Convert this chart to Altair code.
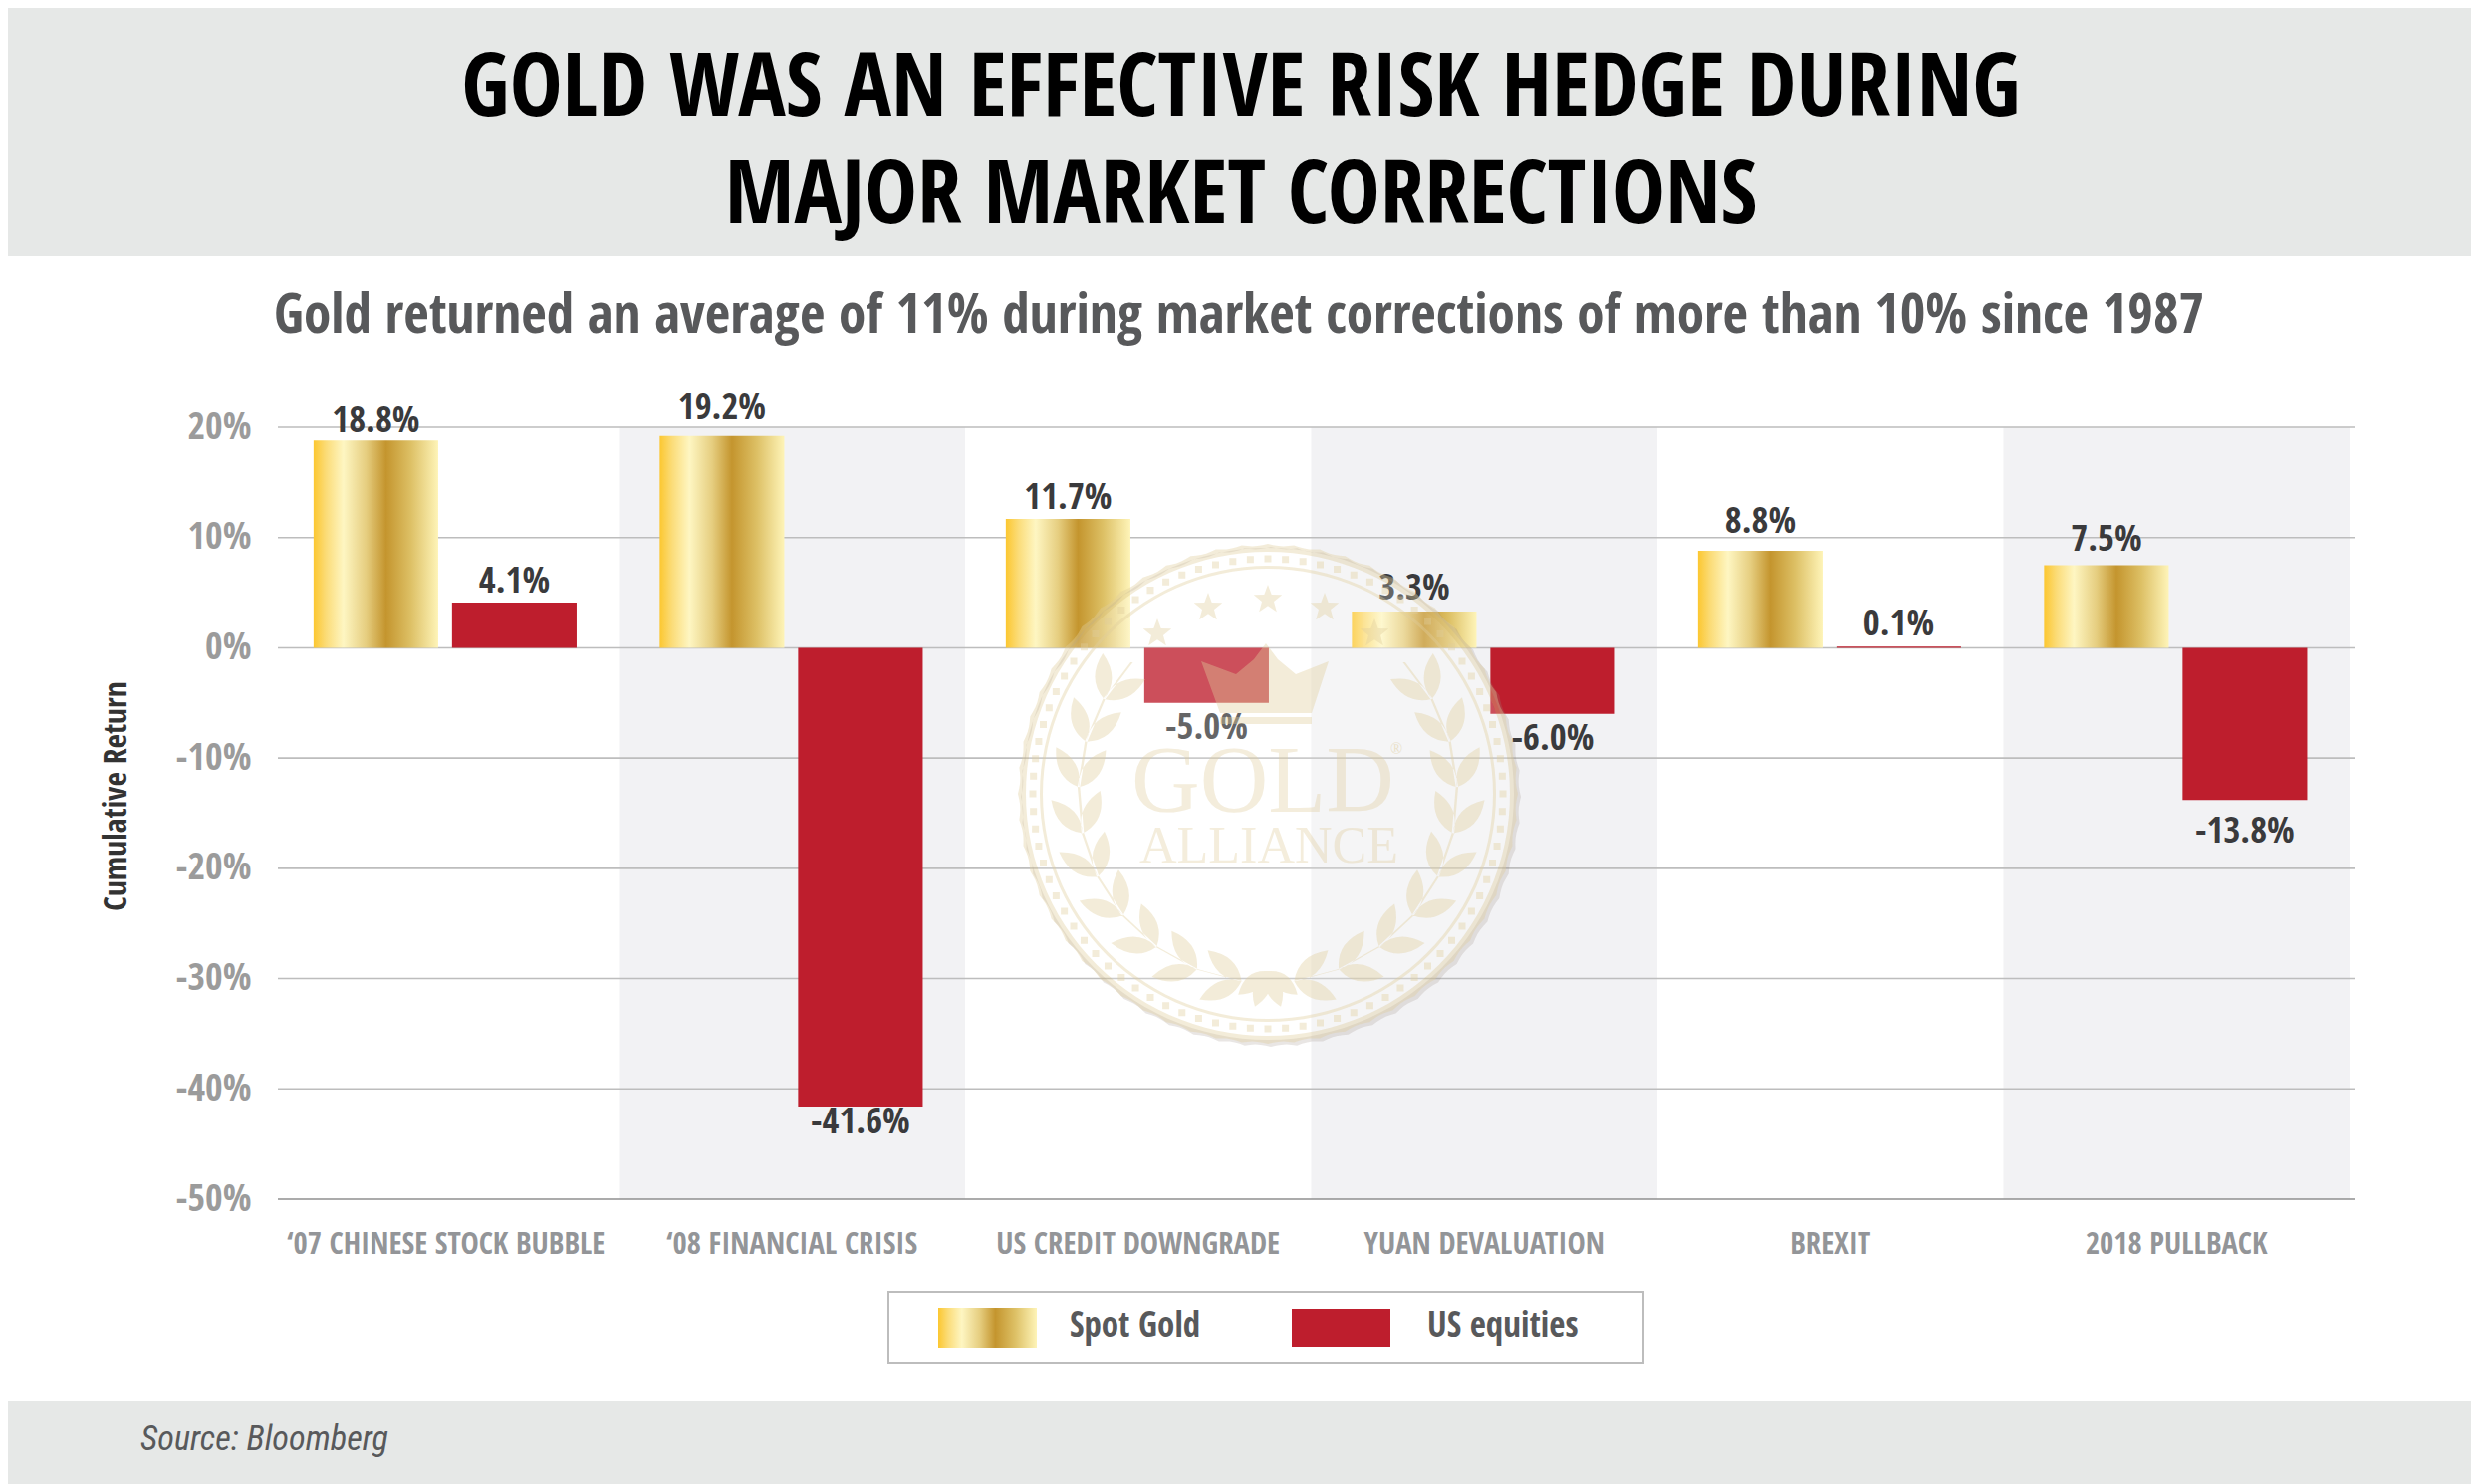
import math
import altair as alt
import pandas as pd

# ---- values ----
categories = ["\u201807 CHINESE STOCK BUBBLE", "\u201808 FINANCIAL CRISIS", "US CREDIT DOWNGRADE",
              "YUAN DEVALUATION", "BREXIT", "2018 PULLBACK"]
shaded = ["\u201808 FINANCIAL CRISIS", "YUAN DEVALUATION", "2018 PULLBACK"]
gold_values = [18.8, 19.2, 11.7, 3.3, 8.8, 7.5]
equity_values = [4.1, -41.6, -5.0, -6.0, 0.1, -13.8]
series_names = ["Spot Gold", "US equities"]
y_ticks = [20, 10, 0, -10, -20, -30, -40, -50]

title_lines = ["GOLD WAS AN EFFECTIVE RISK HEDGE DURING", "MAJOR MARKET CORRECTIONS"]
subtitle = "Gold returned an average of 11% during market corrections of more than 10% since 1987"
source = "Source: Bloomberg"
y_title = "Cumulative Return"

# ---- frame ----
OX, OY = 279, 429   # plot origin on the page
PW, PH = 2085, 775
FONT = "Open Sans Condensed"
def px(v): return v - OX
def py(v): return v - OY

GOLD = alt.LinearGradient(
    gradient="linear", x1=0, x2=1, y1=0, y2=0,
    stops=[alt.GradientStop(color="#FCC730", offset=0),
           alt.GradientStop(color="#FBDC78", offset=0.1),
           alt.GradientStop(color="#FEF6C2", offset=0.24),
           alt.GradientStop(color="#E6CE80", offset=0.42),
           alt.GradientStop(color="#C4952E", offset=0.58),
           alt.GradientStop(color="#DDC065", offset=0.78),
           alt.GradientStop(color="#FEF4B8", offset=1)])
RED = "#BE1E2D"

rows = []
for c, g, e in zip(categories, gold_values, equity_values):
    rows.append({"cat": c, "series": series_names[0], "value": g, "label": f"{g:.1f}%"})
    rows.append({"cat": c, "series": series_names[1], "value": e, "label": f"{e:.1f}%"})
df = pd.DataFrame(rows)

x_enc = alt.X("cat:N", title=None,
              scale=alt.Scale(domain=categories, paddingInner=0, paddingOuter=0),
              axis=alt.Axis(labelAngle=0, labelFont=FONT, labelFontSize=30.7, labelFontWeight="bold",
                            labelColor="#939598", labelPadding=30, labelOffset=-5, labelLimit=0,
                            ticks=False, domain=False, grid=False))
y_enc = alt.Y("value:Q", scale=alt.Scale(domain=[-50, 20], nice=False), title=y_title,
              axis=alt.Axis(values=y_ticks, labelExpr="datum.value + '%'", labelFont=FONT,
                            labelFontSize=38, labelFontWeight="bold", labelColor="#9B9B9B",
                            labelPadding=27, ticks=False, domain=False, grid=False,
                            titleFont=FONT, titleFontSize=31.5, titleFontWeight="bold",
                            titleColor="#333333", titleX=px(133), titleY=py(799)))
off_enc = alt.XOffset("series:N", scale=alt.Scale(domain=series_names, paddingInner=0.1,
                                                  paddingOuter=0.3, align=0.43))

def band(x0, x1, y0, y1, **kw):
    return alt.Chart(pd.DataFrame({"a": [0]})).mark_rect(**kw).encode(
        x=alt.value(px(x0)), x2=alt.value(px(x1)), y=alt.value(py(y0)), y2=alt.value(py(y1)))

def txt(s, x, y, size, color, align="center", weight="bold", font=FONT, **kw):
    return alt.Chart(pd.DataFrame({"a": [0]})).mark_text(
        text=s, font=font, fontSize=size, fontWeight=weight, color=color, align=align,
        baseline="middle", **kw).encode(x=alt.value(px(x)), y=alt.value(py(y)))

# ---- plot layers ----
band_layer = alt.Chart(pd.DataFrame({"cat": shaded})).mark_rect(color="#F2F2F4").encode(
    x=x_enc, xOffset=alt.value(-5))
grid_layer = alt.Chart(pd.DataFrame({"value": y_ticks})).mark_rule(strokeWidth=1.6).encode(
    y=y_enc,
    color=alt.condition("datum.value === -50", alt.value("#8F8F8F"), alt.value("#BDBDBD")))
gold_bars = alt.Chart(df[df.series == series_names[0]]).mark_bar(fill=GOLD, cornerRadius=0).encode(
    x=x_enc, xOffset=off_enc, y=y_enc)
red_bars = alt.Chart(df[df.series == series_names[1]]).mark_bar(fill=RED, cornerRadius=0).encode(
    x=x_enc, xOffset=off_enc, y=y_enc)

label_gap = {"19.2%": 17, "8.8%": 18, "7.5%": 14, "3.3%": 12, "-13.8%": 20, "-5.0%": 13, "-6.0%": 13,
             "-41.6%": 4, "0.1%": 11, "18.8%": 8, "4.1%": 10, "11.7%": 10}
label_layers = []
for _, r in df.iterrows():
    gap = label_gap.get(r["label"], 8)
    up = r["value"] >= 0
    label_layers.append(
        alt.Chart(pd.DataFrame([r])).mark_text(
            font=FONT, fontSize=36.5, fontWeight="bold", color="#3A3A3C",
            baseline="alphabetic" if up else "top", dy=-gap if up else gap - 6).encode(
            x=x_enc, xOffset=off_enc, y=y_enc, text="label:N"))

# ---- seal watermark (one decorative path in unit coordinates) ----
R = 251.0
def P(x, y): return f"{x / R:.4f},{y / R:.4f}"
def circle_poly(r, n=120, rev=False):
    ang = [2 * math.pi * i / n for i in range(n)]
    if rev: ang = ang[::-1]
    pts = [P(r * math.cos(a), r * math.sin(a)) for a in ang]
    return "M" + " L".join(pts) + " Z"
def scallop(r_out, r_in, n=300, dx=0, dy=0):
    pts = []
    for i in range(n):
        a = 2 * math.pi * i / n
        rr = r_out - 2.0 * abs(math.sin(a * 30))
        pts.append(P(rr * math.cos(a) + dx, rr * math.sin(a) + dy))
    return "M" + " L".join(pts) + " Z " + circle_poly(r_in, rev=True)
def leaf(x, y, a, ln=46, w=17):
    tx, ty = x + ln * math.cos(a), y + ln * math.sin(a)
    mx, my = x + ln * .45 * math.cos(a), y + ln * .45 * math.sin(a)
    nx, ny = -math.sin(a) * w, math.cos(a) * w
    return (f"M{P(x, y)} Q{P(mx + nx, my + ny)} {P(tx, ty)} Q{P(mx - nx, my - ny)} {P(x, y)} Z")
def star(x, y, r):
    pts = []
    for i in range(10):
        a = -math.pi / 2 + i * math.pi / 5
        rr = r if i % 2 == 0 else r * .42
        pts.append(P(x + rr * math.cos(a), y + rr * math.sin(a)))
    return "M" + " L".join(pts) + " Z"

parts = [scallop(251, 243), circle_poly(229), circle_poly(226, rev=True)]
for i in range(84):
    a = 2 * math.pi * i / 84
    c, s = 236 * math.cos(a), 236 * math.sin(a)
    parts.append(f"M{P(c - 3.5, s - 3.5)} L{P(c + 3.5, s - 3.5)} L{P(c + 3.5, s + 3.5)} L{P(c - 3.5, s + 3.5)} Z")
for x, y in [(-111, -161), (-60, -187), (0, -195), (57, -187), (107, -161)]:
    parts.append(star(x, y, 15))
# crown
parts.append("M" + " L".join(P(x, y) for x, y in [(-67, -133), (-32, -120), (-14, -135), (-2, -151), (10, -135),
                                                   (28, -120), (61, -133), (44, -81), (-48, -81)]) + " Z")
parts.append("M" + " L".join(P(x, y) for x, y in [(-48, -77), (44, -77), (44, -70), (-48, -70)]) + " Z")
# wreath: the left branch, mirrored for the right
for side in (1, -1):
    for deg in range(98, 222, 14):
        a = math.radians(deg)
        sx, sy = 190 * math.cos(a), 190 * math.sin(a)
        tangent = a + math.pi / 2
        for d in (-0.55, 0.6):
            la = tangent + d
            if side == 1:
                parts.append(leaf(sx, sy, la))
            else:
                parts.append(leaf(-sx, sy, math.pi - la))
        b = math.radians(deg + 14)
        x0, y0, x1, y1 = side * sx, sy, side * 190 * math.cos(b), 190 * math.sin(b)
        parts.append(f"M{P(x0 - 1.2, y0)} L{P(x1 - 1.2, y1)} L{P(x1 + 1.2, y1)} L{P(x0 + 1.2, y0)} Z")
for fan in (-0.9, -0.35, 0.35, 0.9):
    parts.append(leaf(0, 178, math.pi / 2 + fan, ln=38, w=16))
seal_path = " ".join(parts)
shadow_path = scallop(251, 247, dx=3, dy=3)

SEAL_X, SEAL_Y = 1273, 797
def seal_mark(shape, fill, op, dia=502):
    return alt.Chart(pd.DataFrame({"a": [0]})).mark_point(
        shape=shape, filled=True, fill=fill, opacity=op, size=dia ** 2, strokeWidth=0).encode(
        x=alt.value(px(SEAL_X)), y=alt.value(py(SEAL_Y)))
seal = [
    seal_mark(shadow_path, "#9A8F86", 0.22),
    seal_mark("circle", "#FFFFFF", 0.22, 486),
    seal_mark(seal_path, "#E0CD9C", 0.38),
    txt("GOLD", 1268, 786, 95, "#E0CD9C", weight="normal", font="Liberation Serif", opacity=0.35),
    txt("ALLIANCE", 1274, 850, 52, "#E0CD9C", weight="normal", font="Liberation Serif", opacity=0.35),
    txt("\u00ae", 1402, 752, 16, "#E0CD9C", weight="normal", font="Liberation Serif", opacity=0.5),
]

# ---- page furniture ----
furniture = [
    band(0, 2489, 0, 257, color="#E6E8E7"),
    band(0, 2489, 1407, 1490, color="#E6E8E7"),
]
texts = [
    txt(title_lines[0], 1246, 89, 89, "#000000"),
    txt(title_lines[1], 1246, 197, 89, "#000000"),
    txt(subtitle, 1244, 317, 55.3, "#58595B"),
    txt(source, 141, 1446, 34.3, "#58595B", align="left", fontStyle="italic", weight="normal", font="Roboto Condensed"),
]
legend = [
    band(892, 1650, 1297, 1369, fill="#FFFFFF", stroke="#BDBDBD", strokeWidth=2),
    band(942, 1041, 1313, 1353, fill=GOLD),
    band(1297, 1396, 1314, 1352, fill=RED),
    txt(series_names[0], 1074, 1331, 35, "#58595B", align="left"),
    txt(series_names[1], 1433, 1331, 35, "#58595B", align="left"),
]

chart = alt.layer(
    *furniture, band_layer, grid_layer, gold_bars, red_bars, *label_layers, *seal, *legend, *texts
).resolve_scale(x="shared", y="shared").properties(
    width=PW, height=PH, background="#FFFFFF",
    autosize=alt.AutoSizeParams(type="none"),
    padding={"left": OX - 8, "top": OY - 8, "right": 2481 - OX - PW, "bottom": 1490 - OY - PH},
).configure_view(stroke=None)

chart.save("out.html", embed_options={"renderer": "svg", "actions": False})
